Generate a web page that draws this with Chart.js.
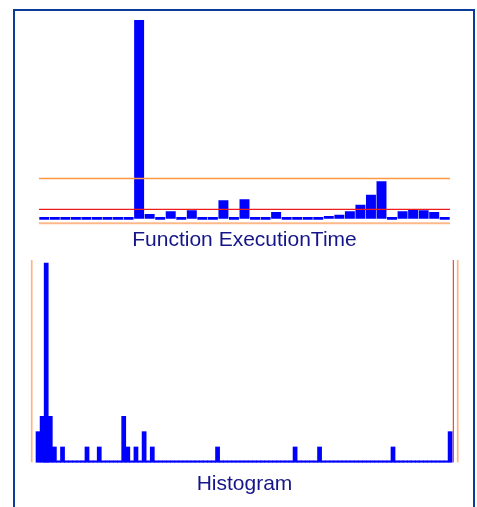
<!DOCTYPE html>
<html>
<head>
<meta charset="utf-8">
<script src="https://cdn.jsdelivr.net/npm/chart.js@4.4.0/dist/chart.umd.min.js"></script>
<style>
body { margin: 0; background: #fff; overflow: hidden; }
#frame { position: absolute; left: 13px; top: 9px; width: 458px; height: 520px; border: 2px solid #0b3c9c; }
canvas { position: absolute; left: 15px; }
#execChart { top: 12px; }
#histChart { top: 254px; }
</style>
</head>
<body>
<div id="frame"></div>
<canvas id="execChart" width="458" height="242"></canvas>
<canvas id="histChart" width="458" height="253"></canvas>
<script>
// execution time per function call
var callIds = [1,2,3,4,5,6,7,8,9,10,11,12,13,14,15,16,17,18,19,20,
    21,22,23,24,25,26,27,28,29,30,31,32,33,34,35,36,37,38,39];
var execTimes = [0,0,0,0,0,0,0,0,0,198,4,0,6.7,0,7.7,0,0,17.7,0,18.7,
    0,0,6,0,0,0,0,1.3,3.3,6.7,13.3,23.3,36.7,0,6.7,9,7.7,6,0];
var execMean = 9;
var execUpper = 39.7;
var execLower = -5;

// histogram of the execution times
var histBinCount = 102;
var histBins = [0,1,2,3,4,6,12,15,21,22,24,26,28,44,63,69,87,101];
var histCounts = [2,3,13,3,1,1,1,1,3,1,1,2,1,1,1,1,1,2];
var histLowMark = -1.55;
var histMeanMark = 101.78;
var histHighMark = 102.86;

var titleFont = { family: "'Liberation Sans', Arial, sans-serif", size: 21, weight: 'normal' };
var titleColor = '#15158a';

var execData = [];
for (var k = 0; k < callIds.length; k++) {
    execData.push({ x: callIds[k], y: execTimes[k] });
}

function hLine(v, color, width) {
    return { type: 'line', data: [{x: 0.5, y: v}, {x: callIds.length + 0.5, y: v}], borderColor: color,
        borderWidth: width, pointRadius: 0, clip: false, order: 0 };
}

new Chart(document.getElementById('execChart').getContext('2d'), {
    type: 'bar',
    data: {
        datasets: [
            { label: 'time', data: execData, backgroundColor: '#0000ff', borderWidth: 0,
              barThickness: 9.3, minBarLength: 2, order: 1 },
            hLine(execUpper, '#ff9940', 1.5),
            hLine(execMean, '#ee1c1c', 1.2),
            hLine(execLower, '#ffb88a', 2)
        ]
    },
    options: {
        responsive: false,
        animation: false,
        layout: { padding: { left: 24, right: 23, top: 8, bottom: 0.9 } },
        scales: {
            x: { type: 'linear', display: false, offset: false, min: 0.5, max: callIds.length + 0.5 },
            y: { display: false, min: -5, max: 198.3 }
        },
        plugins: {
            legend: { display: false },
            tooltip: { enabled: false },
            title: { display: true, text: 'Function ExecutionTime', position: 'bottom',
                     font: titleFont, color: titleColor, padding: { top: 4.6, bottom: 0 } }
        }
    }
});

var histData = [];
for (var i = 0; i < histBinCount; i++) {
    histData.push({ x: i, y: 0 });
}
for (var j = 0; j < histBins.length; j++) {
    histData[histBins[j]].y = histCounts[j];
}

function vLine(v, color, width) {
    return { type: 'line', data: [{x: v, y: 0}, {x: v, y: 13.2}], borderColor: color,
        borderWidth: width, pointRadius: 0, clip: false, order: 0 };
}

new Chart(document.getElementById('histChart').getContext('2d'), {
    type: 'bar',
    data: {
        datasets: [
            { label: 'count', data: histData, backgroundColor: '#0000ff', borderWidth: 0,
              barThickness: 4.08, minBarLength: 1.5, clip: false, order: 1 },
            vLine(histLowMark, '#ffb380', 1.7),
            vLine(histMeanMark, '#e82020', 1),
            vLine(histHighMark, '#ffb380', 1.7)
        ]
    },
    options: {
        responsive: false,
        animation: false,
        layout: { padding: { left: 16, right: 15, top: 6, bottom: 10.5 } },
        scales: {
            x: { type: 'linear', display: false, offset: false, min: -1.7255, max: 102.93 },
            y: { display: false, min: 0, max: 13.2 }
        },
        plugins: {
            legend: { display: false },
            tooltip: { enabled: false },
            title: { display: true, text: 'Histogram', position: 'bottom',
                     font: titleFont, color: titleColor, padding: { top: 9, bottom: 0 } }
        }
    }
});
</script>
</body>
</html>
